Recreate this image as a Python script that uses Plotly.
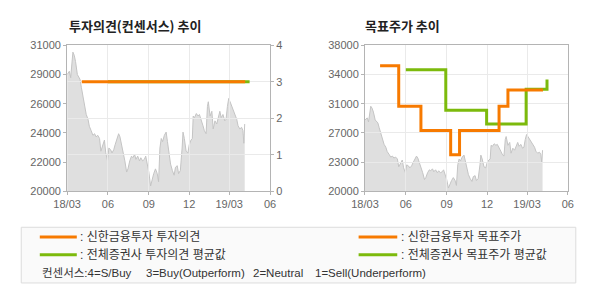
import plotly.graph_objects as go

# ---------------- data ----------------
price_dates = ["2018-03-01","2018-03-06","2018-03-09","2018-03-14","2018-03-17","2018-03-20","2018-03-24","2018-03-30",
"2018-04-02","2018-04-06","2018-04-09","2018-04-13","2018-04-17","2018-04-20","2018-04-24","2018-04-28",
"2018-05-02","2018-05-05","2018-05-09","2018-05-13","2018-05-16","2018-05-20","2018-05-24","2018-05-27","2018-05-31",
"2018-06-03","2018-06-07","2018-06-10","2018-06-14","2018-06-17","2018-06-21","2018-06-25","2018-06-28",
"2018-07-02","2018-07-05","2018-07-09","2018-07-13","2018-07-16","2018-07-20","2018-07-24","2018-07-27","2018-07-31",
"2018-08-03","2018-08-07","2018-08-11","2018-08-14","2018-08-18","2018-08-22","2018-08-25","2018-08-29",
"2018-09-01","2018-09-05","2018-09-09","2018-09-12","2018-09-16","2018-09-20","2018-09-23","2018-09-26","2018-09-29",
"2018-10-02","2018-10-06","2018-10-10","2018-10-13","2018-10-17","2018-10-20","2018-10-24","2018-10-28","2018-10-31",
"2018-11-04","2018-11-07","2018-11-11","2018-11-15","2018-11-17","2018-11-20","2018-11-24","2018-11-28",
"2018-12-01","2018-12-05","2018-12-08","2018-12-10","2018-12-13","2018-12-17","2018-12-21","2018-12-24","2018-12-28",
"2019-01-01","2019-01-04","2019-01-08","2019-01-11","2019-01-13","2019-01-17","2019-01-21","2019-01-24","2019-01-28",
"2019-02-01","2019-02-04","2019-02-08","2019-02-11","2019-02-15","2019-02-19","2019-02-22","2019-02-25","2019-02-28",
"2019-03-03","2019-03-07","2019-03-10","2019-03-14","2019-03-18","2019-03-21","2019-03-25","2019-03-29",
"2019-04-01","2019-04-03","2019-04-05"]
prices = [28800,29050,28560,30490,30250,29770,28800,28440,
27840,27110,26390,25790,25430,24900,24580,24220,
24340,24100,24220,23980,23020,23500,23860,22900,22290,
23260,23130,22890,23130,23500,23980,24340,24100,
23500,23020,22290,21450,21690,22290,22650,22530,22770,
22410,22650,22290,22530,22290,22410,22650,22050,
21450,20400,21090,21330,21690,21330,20720,23260,23980,
23740,24220,24460,23740,22770,22050,21570,21210,21810,
21930,21330,21570,23260,24460,23980,23020,22890,
23500,23860,23980,25670,25550,25860,25670,25790,25430,
24940,24580,24340,26390,26750,25670,26030,24700,25310,
25070,25430,26030,25550,25790,25310,25430,26390,27000,
26750,26390,26150,25910,25430,24940,24700,24820,
24580,23620,25070]

# opinion (consensus scale 0-4)
shinhan_op_dates = ["2018-04-03", "2019-04-06"]
shinhan_op = [3, 3]
avg_op_dates = ["2018-06-01", "2019-04-16"]
avg_op = [3, 3]

# target price
shinhan_tp_dates = ["2018-04-04","2018-05-16","2018-07-05","2018-09-10","2018-09-30","2018-12-28","2019-01-17","2019-04-06"]
shinhan_tp = [35500, 30500, 27500, 24500, 27500, 30500, 32500, 32500]
avg_tp_dates = ["2018-06-01","2018-08-30","2018-11-30","2019-02-27","2019-04-15"]
avg_tp = [35000, 30000, 28300, 32600, 33800]

x_range = ["2018-03-01", "2019-06-01"]
x_tickvals = ["2018-03-01","2018-06-01","2018-09-01","2018-12-01","2019-03-01","2019-06-01"]
x_ticktext = ["18/03","06","09","12","19/03","06"]

left_y_range = [20000, 31000]
left_y_tickvals = [20000, 22200, 24400, 26600, 28800, 31000]
left_y_ticktext = ["20000","22000","24000","26000","29000","31000"]
op_tickvals = [0, 1, 2, 3, 4]

right_y_range = [20000, 38000]
right_y_tickvals = [20000, 23600, 27200, 30800, 34400, 38000]
right_y_ticktext = ["20000","23000","27000","31000","34000","38000"]

legend_labels = [": 신한금융투자 투자의견", ": 전체증권사 투자의견 평균값",
                 ": 신한금융투자 목표주가", ": 전체증권사 목표주가 평균값"]
consensus_labels = ["컨센서스:4=S/Buy", "3=Buy(Outperform)", "2=Neutral", "1=Sell(Underperform)"]

ORANGE = "#f77a00"
GREEN = "#7cba0c"
FRAME = "#b4b4b4"
GRID = "#eaeaea"
TICKFONT = dict(family="Liberation Sans, Arial, sans-serif", size=11, color="#666666")
KFONT = "Noto Sans CJK KR, sans-serif"
MIXFONT = "Liberation Sans, Noto Sans CJK KR, sans-serif"

W, H = 590, 300
def px(x): return x / W
def py(y): return 1 - y / H

LX = [px(55), px(265)]
RX = [px(363.3), px(573.3)]
YD = [py(193), py(41)]

fig = go.Figure()
# left: price area
fig.add_trace(go.Scatter(x=price_dates, y=prices, xaxis="x", yaxis="y", mode="lines",
                         line=dict(color="#c4c4c4", width=1), fill="tozeroy", fillcolor="#dfdfdf",
                         hoverinfo="skip", showlegend=False))
# left: opinions
fig.add_trace(go.Scatter(x=avg_op_dates, y=avg_op, xaxis="x2", yaxis="y2", mode="lines",
                         line=dict(color=GREEN, width=3, shape="hv"), showlegend=False))
fig.add_trace(go.Scatter(x=shinhan_op_dates, y=shinhan_op, xaxis="x2", yaxis="y2", mode="lines",
                         line=dict(color=ORANGE, width=3, shape="hv"), showlegend=False))
# right: price area
fig.add_trace(go.Scatter(x=price_dates, y=prices, xaxis="x3", yaxis="y3", mode="lines",
                         line=dict(color="#c4c4c4", width=1), fill="tozeroy", fillcolor="#dfdfdf",
                         hoverinfo="skip", showlegend=False))
# right: target prices
fig.add_trace(go.Scatter(x=avg_tp_dates, y=avg_tp, xaxis="x4", yaxis="y4", mode="lines",
                         line=dict(color=GREEN, width=3, shape="hv"), showlegend=False))
fig.add_trace(go.Scatter(x=shinhan_tp_dates, y=shinhan_tp, xaxis="x4", yaxis="y4", mode="lines",
                         line=dict(color=ORANGE, width=3, shape="hv"), showlegend=False))

base_x = dict(type="date", range=x_range, tickvals=x_tickvals, ticktext=x_ticktext,
              fixedrange=True)
under_x = dict(base_x, showgrid=False, ticks="outside", ticklen=3, tickcolor=FRAME,
               showline=False, tickfont=TICKFONT)
over_x = dict(base_x, showgrid=True, gridcolor=GRID, gridwidth=1, showticklabels=False,
              ticks="", showline=True, linecolor=FRAME, mirror=True, zeroline=False)

fig.update_layout(
    width=W, height=H, margin=dict(l=0, r=0, t=0, b=0),
    paper_bgcolor="white", plot_bgcolor="rgba(0,0,0,0)", showlegend=False,
    xaxis=dict(under_x, domain=LX, anchor="y"),
    yaxis=dict(domain=YD, anchor="x", range=left_y_range, tickvals=left_y_tickvals,
               ticktext=left_y_ticktext, showgrid=False, zeroline=False, ticks="outside",
               ticklen=3, tickcolor=FRAME, tickfont=TICKFONT, showline=False, fixedrange=True),
    xaxis2=dict(over_x, domain=LX, anchor="y2"),
    yaxis2=dict(domain=YD, anchor="x2", side="right", range=[0, 4], tickvals=op_tickvals,
                showgrid=True, gridcolor=GRID, zeroline=False, ticks="outside", ticklen=3,
                tickcolor=FRAME, tickfont=TICKFONT, showline=True, linecolor=FRAME, mirror=True,
                fixedrange=True),
    xaxis3=dict(under_x, domain=RX, anchor="y3"),
    yaxis3=dict(domain=YD, anchor="x3", range=right_y_range, tickvals=right_y_tickvals,
                ticktext=right_y_ticktext, showgrid=False, zeroline=False, ticks="outside",
                ticklen=3, tickcolor=FRAME, tickfont=TICKFONT, showline=False, fixedrange=True),
    xaxis4=dict(over_x, domain=RX, anchor="y4"),
    yaxis4=dict(domain=YD, anchor="x4", range=right_y_range, tickvals=right_y_tickvals,
                showgrid=True, gridcolor=GRID, zeroline=False, showticklabels=False, ticks="",
                showline=True, linecolor=FRAME, mirror=True, fixedrange=True),
)

annotations = []
shapes = []
# titles
annotations.append(dict(text="<b>투자의견(컨센서스) 추이</b>", x=px(55), y=py(20), xref="paper", yref="paper",
                        xanchor="left", yanchor="middle", showarrow=False,
                        font=dict(family=KFONT, size=13, color="#222222")))
annotations.append(dict(text="<b>목표주가 추이</b>", x=px(361.5), y=py(20), xref="paper", yref="paper",
                        xanchor="left", yanchor="middle", showarrow=False,
                        font=dict(family=KFONT, size=13, color="#222222")))
# legend box
shapes.append(dict(type="rect", xref="paper", yref="paper", x0=px(7.5), x1=px(581.5), y0=py(288.5), y1=py(230.5),
                   line=dict(color="#dcdcdc", width=1), fillcolor="#fafafa", layer="below"))
legend_geom = [(26.7, 65, 240.5, ORANGE), (26.7, 65, 259, GREEN),
               (356.7, 396.7, 240.5, ORANGE), (356.7, 396.7, 259, GREEN)]
for (x0, x1, y, col), txt in zip(legend_geom, legend_labels):
    shapes.append(dict(type="line", xref="paper", yref="paper", x0=px(x0), x1=px(x1), y0=py(y), y1=py(y),
                       line=dict(color=col, width=3)))
    annotations.append(dict(text=txt, x=px(x1 + 1.5), y=py(y), xref="paper", yref="paper",
                            xanchor="left", yanchor="middle", showarrow=False,
                            font=dict(family=MIXFONT, size=12, color="#333333")))
consensus_x = [26.7, 135, 245, 310]
for x, txt in zip(consensus_x, consensus_labels):
    annotations.append(dict(text=txt, x=px(x), y=py(278.5), xref="paper", yref="paper",
                            xanchor="left", yanchor="middle", showarrow=False,
                            font=dict(family=MIXFONT, size=11.5, color="#333333")))

fig.update_layout(annotations=annotations, shapes=shapes)
fig.write_html("out.html")
